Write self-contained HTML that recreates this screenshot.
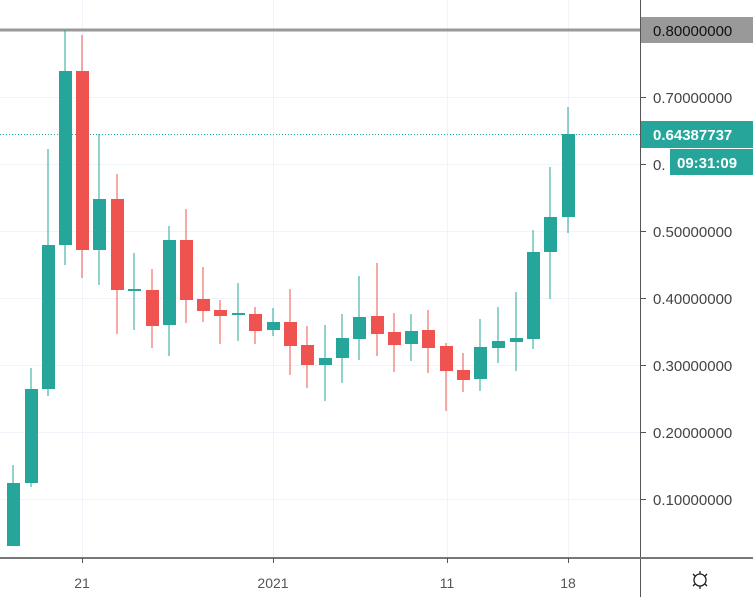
<!DOCTYPE html>
<html><head><meta charset="utf-8"><style>
html,body{margin:0;padding:0;background:#fff;}
svg{display:block;font-family:"Liberation Sans",sans-serif;}
</style></head><body>
<svg width="753" height="597" viewBox="0 0 753 597" xmlns="http://www.w3.org/2000/svg">
<rect width="753" height="597" fill="#fff"/>
<g stroke="#f0f3fa" stroke-width="1">
<line x1="0" y1="97.5" x2="640" y2="97.5"/><line x1="0" y1="164.5" x2="640" y2="164.5"/>
<line x1="0" y1="231.5" x2="640" y2="231.5"/><line x1="0" y1="298.5" x2="640" y2="298.5"/>
<line x1="0" y1="365.5" x2="640" y2="365.5"/><line x1="0" y1="432.5" x2="640" y2="432.5"/>
<line x1="0" y1="499.5" x2="640" y2="499.5"/>
<line x1="82.5" y1="0" x2="82.5" y2="558"/><line x1="273.5" y1="0" x2="273.5" y2="558"/>
<line x1="447.5" y1="0" x2="447.5" y2="558"/><line x1="568.5" y1="0" x2="568.5" y2="558"/>
</g>
<line x1="0" y1="30" x2="640" y2="30" stroke="#999" stroke-width="3"/>
<line x1="0" y1="134.5" x2="640" y2="134.5" stroke="#26a69a" stroke-width="1" stroke-dasharray="1,2"/>
<g id="c"></g>
<g stroke-width="1.3">
<!-- x, open, high, low, close, color -->
</g>
<g>
<line x1="13" y1="465" x2="13" y2="546" stroke="#26a69a"/><rect x="7" y="483" width="13" height="63" fill="#26a69a"/>
<line x1="31" y1="368" x2="31" y2="487" stroke="#26a69a"/><rect x="25" y="389" width="13" height="94" fill="#26a69a"/>
<line x1="48" y1="149" x2="48" y2="396" stroke="#26a69a"/><rect x="42" y="245" width="13" height="144" fill="#26a69a"/>
<line x1="65" y1="30" x2="65" y2="265" stroke="#26a69a"/><rect x="59" y="71" width="13" height="174" fill="#26a69a"/>
<line x1="82" y1="35" x2="82" y2="278" stroke="#ef5350"/><rect x="76" y="71" width="13" height="179" fill="#ef5350"/>
<line x1="99" y1="134" x2="99" y2="285" stroke="#26a69a"/><rect x="93" y="199" width="13" height="51" fill="#26a69a"/>
<line x1="117" y1="174" x2="117" y2="334" stroke="#ef5350"/><rect x="111" y="199" width="13" height="91" fill="#ef5350"/>
<line x1="134" y1="253" x2="134" y2="330" stroke="#26a69a"/><rect x="128" y="289" width="13" height="2" fill="#26a69a"/>
<line x1="152" y1="269" x2="152" y2="348" stroke="#ef5350"/><rect x="146" y="290" width="13" height="36" fill="#ef5350"/>
<line x1="169" y1="226" x2="169" y2="356" stroke="#26a69a"/><rect x="163" y="240" width="13" height="85" fill="#26a69a"/>
<line x1="186" y1="209" x2="186" y2="323" stroke="#ef5350"/><rect x="180" y="240" width="13" height="60" fill="#ef5350"/>
<line x1="203" y1="267" x2="203" y2="322" stroke="#ef5350"/><rect x="197" y="299" width="13" height="12" fill="#ef5350"/>
<line x1="220" y1="300" x2="220" y2="344" stroke="#ef5350"/><rect x="214" y="310" width="13" height="6" fill="#ef5350"/>
<line x1="238" y1="283" x2="238" y2="341" stroke="#26a69a"/><rect x="232" y="313" width="13" height="2" fill="#26a69a"/>
<line x1="255" y1="307" x2="255" y2="344" stroke="#ef5350"/><rect x="249" y="314" width="13" height="17" fill="#ef5350"/>
<line x1="273" y1="308" x2="273" y2="336" stroke="#26a69a"/><rect x="267" y="322" width="13" height="8" fill="#26a69a"/>
<line x1="290" y1="289" x2="290" y2="375" stroke="#ef5350"/><rect x="284" y="322" width="13" height="24" fill="#ef5350"/>
<line x1="307" y1="326" x2="307" y2="388" stroke="#ef5350"/><rect x="301" y="345" width="13" height="20" fill="#ef5350"/>
<line x1="325" y1="325" x2="325" y2="401" stroke="#26a69a"/><rect x="319" y="358" width="13" height="7" fill="#26a69a"/>
<line x1="342" y1="314" x2="342" y2="383" stroke="#26a69a"/><rect x="336" y="338" width="13" height="20" fill="#26a69a"/>
<line x1="359" y1="276" x2="359" y2="360" stroke="#26a69a"/><rect x="353" y="317" width="13" height="22" fill="#26a69a"/>
<line x1="377" y1="263" x2="377" y2="356" stroke="#ef5350"/><rect x="371" y="316" width="13" height="18" fill="#ef5350"/>
<line x1="394" y1="313" x2="394" y2="372" stroke="#ef5350"/><rect x="388" y="332" width="13" height="13" fill="#ef5350"/>
<line x1="411" y1="314" x2="411" y2="361" stroke="#26a69a"/><rect x="405" y="331" width="13" height="13" fill="#26a69a"/>
<line x1="428" y1="310" x2="428" y2="373" stroke="#ef5350"/><rect x="422" y="330" width="13" height="18" fill="#ef5350"/>
<line x1="446" y1="343" x2="446" y2="411" stroke="#ef5350"/><rect x="440" y="346" width="13" height="25" fill="#ef5350"/>
<line x1="463" y1="353" x2="463" y2="392" stroke="#ef5350"/><rect x="457" y="370" width="13" height="10" fill="#ef5350"/>
<line x1="480" y1="319" x2="480" y2="391" stroke="#26a69a"/><rect x="474" y="347" width="13" height="32" fill="#26a69a"/>
<line x1="498" y1="307" x2="498" y2="363" stroke="#26a69a"/><rect x="492" y="341" width="13" height="7" fill="#26a69a"/>
<line x1="516" y1="292" x2="516" y2="371" stroke="#26a69a"/><rect x="510" y="338" width="13" height="4" fill="#26a69a"/>
<line x1="533" y1="230" x2="533" y2="349" stroke="#26a69a"/><rect x="527" y="252" width="13" height="87" fill="#26a69a"/>
<line x1="550" y1="167" x2="550" y2="299" stroke="#26a69a"/><rect x="544" y="217" width="13" height="35" fill="#26a69a"/>
<line x1="568" y1="107" x2="568" y2="233" stroke="#26a69a"/><rect x="562" y="134" width="13" height="83" fill="#26a69a"/>
</g>
<line x1="640.5" y1="0" x2="640.5" y2="597" stroke="#555" stroke-width="1"/>
<line x1="0" y1="558" x2="753" y2="558" stroke="#777" stroke-width="2"/>
<g stroke="#555"><line x1="641" y1="97.5" x2="646" y2="97.5"/><line x1="641" y1="164.5" x2="646" y2="164.5"/><line x1="641" y1="231.5" x2="646" y2="231.5"/><line x1="641" y1="298.5" x2="646" y2="298.5"/><line x1="641" y1="365.5" x2="646" y2="365.5"/><line x1="641" y1="432.5" x2="646" y2="432.5"/><line x1="641" y1="499.5" x2="646" y2="499.5"/>
<line x1="82.5" y1="558" x2="82.5" y2="563"/><line x1="273.5" y1="558" x2="273.5" y2="563"/><line x1="447.5" y1="558" x2="447.5" y2="563"/><line x1="568.5" y1="558" x2="568.5" y2="563"/></g>
<g font-size="15" fill="#444">
<text x="653" y="103">0.70000000</text>
<text x="653" y="170">0.</text>
<text x="653" y="237">0.50000000</text>
<text x="653" y="304">0.40000000</text>
<text x="653" y="371">0.30000000</text>
<text x="653" y="438">0.20000000</text>
<text x="653" y="505">0.10000000</text>
</g>
<rect x="641" y="17" width="112" height="26" fill="#999"/>
<text x="653" y="36" font-size="15" fill="#111">0.80000000</text>
<rect x="641" y="121" width="112" height="27" fill="#26a69a"/>
<text x="653" y="140" font-size="15" fill="#fff" font-weight="bold">0.64387737</text>
<rect x="670" y="149" width="83" height="26" fill="#26a69a"/>
<text x="677" y="168" font-size="15" fill="#fff" font-weight="bold">09:31:09</text>
<g font-size="14" fill="#555" text-anchor="middle">
<text x="82" y="588">21</text><text x="273" y="588">2021</text><text x="447" y="588">11</text><text x="568" y="588">18</text>
</g>
<g stroke="#222" stroke-width="1.3" fill="none">
<circle cx="700" cy="580" r="6"/>
<line x1="700" y1="571" x2="700" y2="574"/><line x1="700" y1="586" x2="700" y2="589"/>
<line x1="693" y1="574" x2="695" y2="576"/><line x1="705" y1="584" x2="707" y2="586"/>
<line x1="707" y1="574" x2="705" y2="576"/><line x1="695" y1="584" x2="693" y2="586"/>
</g>
</svg>
</body></html>
